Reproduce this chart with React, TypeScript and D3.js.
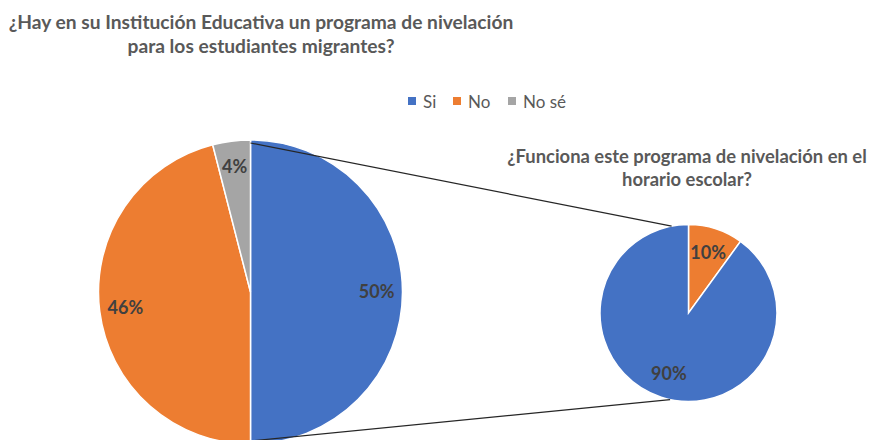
import * as d3 from "d3";

const mainCategories = ["Si", "No", "No sé"];
const mainValues = [50, 46, 4];
const mainLabels = ["50%", "46%", "4%"];

const subCategories = ["No", "Si"];
const subValues = [10, 90];
const subLabels = ["10%", "90%"];

const colors: Record<string, string> = {
  "Si": "#4472C4",
  "No": "#ED7D31",
  "No sé": "#A5A5A5",
};

const title1 = ["¿Hay en su Institución Educativa un programa de nivelación", "para los estudiantes migrantes?"];
const title2 = ["¿Funciona este programa de nivelación en el", "horario escolar?"];

const W = 878;
const H = 440;
const FONT = "Lato, 'Open Sans', sans-serif";
const TEXT = "#595959";

export default function App() {
  const big = { cx: 250.5, cy: 292, r: 152 };
  const small = { cx: 688.5, cy: 313, r: 88.5 };

  const pie = d3.pie<number>().sort(null).startAngle(0).endAngle(2 * Math.PI);
  const bigArcs = pie(mainValues);
  const smallArcs = pie(subValues);

  const bigArc = d3.arc<d3.PieArcDatum<number>>().innerRadius(0).outerRadius(big.r);
  const bigLabelArc = d3.arc<d3.PieArcDatum<number>>().innerRadius(big.r * 0.83).outerRadius(big.r * 0.83);
  const smallArc = d3.arc<d3.PieArcDatum<number>>().innerRadius(0).outerRadius(small.r);
  const smallLabelArc = d3.arc<d3.PieArcDatum<number>>().innerRadius(small.r * 0.72).outerRadius(small.r * 0.72);

  // connector lines: from the split slice (Si) edges to the secondary pie
  const split = bigArcs[0];
  const pt = (c: { cx: number; cy: number }, r: number, a: number) => [
    c.cx + r * Math.sin(a),
    c.cy - r * Math.cos(a),
  ];
  const topStart = pt(big, big.r - 3, split.startAngle);
  const botStart = pt(big, big.r - 3, split.endAngle);
  const topEnd = pt(small, small.r, (-11 * Math.PI) / 180);
  const botEnd = pt(small, small.r, (192 * Math.PI) / 180);

  const legendX = [408, 453, 508];

  return (
    <div style={{ position: "absolute", left: 0, top: 0 }}>
      <svg width={W} height={H} style={{ display: "block", background: "#fff" }}>
        {/* titles */}
        {title1.map((t, i) => (
          <text key={t} x={261} y={29 + i * 24} textAnchor="middle" fontFamily={FONT} fontWeight="bold" fontSize={19.2} fill={TEXT}>
            {t}
          </text>
        ))}
        {title2.map((t, i) => (
          <text key={t} x={687} y={163 + i * 23} textAnchor="middle" fontFamily={FONT} fontWeight="bold" fontSize={18.4} fill={TEXT}>
            {t}
          </text>
        ))}

        {/* legend */}
        {mainCategories.map((c, i) => (
          <g key={c} transform={`translate(${legendX[i]},101)`}>
            <rect x={0} y={-4} width={8} height={8} fill={colors[c]} />
            <text x={15} y={7} fontFamily={FONT} fontSize={17} fill={TEXT}>
              {c}
            </text>
          </g>
        ))}

        {/* main pie */}
        <g transform={`translate(${big.cx},${big.cy})`}>
          {bigArcs.map((a, i) => (
            <path key={i} d={bigArc(a) ?? ""} fill={colors[mainCategories[i]]} stroke="#fff" strokeWidth={1.5} />
          ))}
          {bigArcs.map((a, i) => {
            const [x, y] = bigLabelArc.centroid(a);
            return (
              <text key={i} x={x} y={y} dy="0.35em" textAnchor="middle" fontFamily={FONT} fontWeight="bold" fontSize={18} fill="#404040">
                {mainLabels[i]}
              </text>
            );
          })}
        </g>

        {/* secondary pie */}
        <g transform={`translate(${small.cx},${small.cy})`}>
          {smallArcs.map((a, i) => (
            <path key={i} d={smallArc(a) ?? ""} fill={colors[subCategories[i]]} stroke="#fff" strokeWidth={1.5} />
          ))}
          {smallArcs.map((a, i) => {
            const [x, y] = smallLabelArc.centroid(a);
            return (
              <text key={i} x={x} y={y} dy="0.35em" textAnchor="middle" fontFamily={FONT} fontWeight="bold" fontSize={18} fill="#404040">
                {subLabels[i]}
              </text>
            );
          })}
        </g>

        {/* connectors */}
        <line x1={topStart[0]} y1={topStart[1]} x2={topEnd[0]} y2={topEnd[1]} stroke="#262626" strokeWidth={1.2} />
        <line x1={botStart[0]} y1={botStart[1]} x2={botEnd[0]} y2={botEnd[1]} stroke="#262626" strokeWidth={1.2} />
      </svg>
    </div>
  );
}
